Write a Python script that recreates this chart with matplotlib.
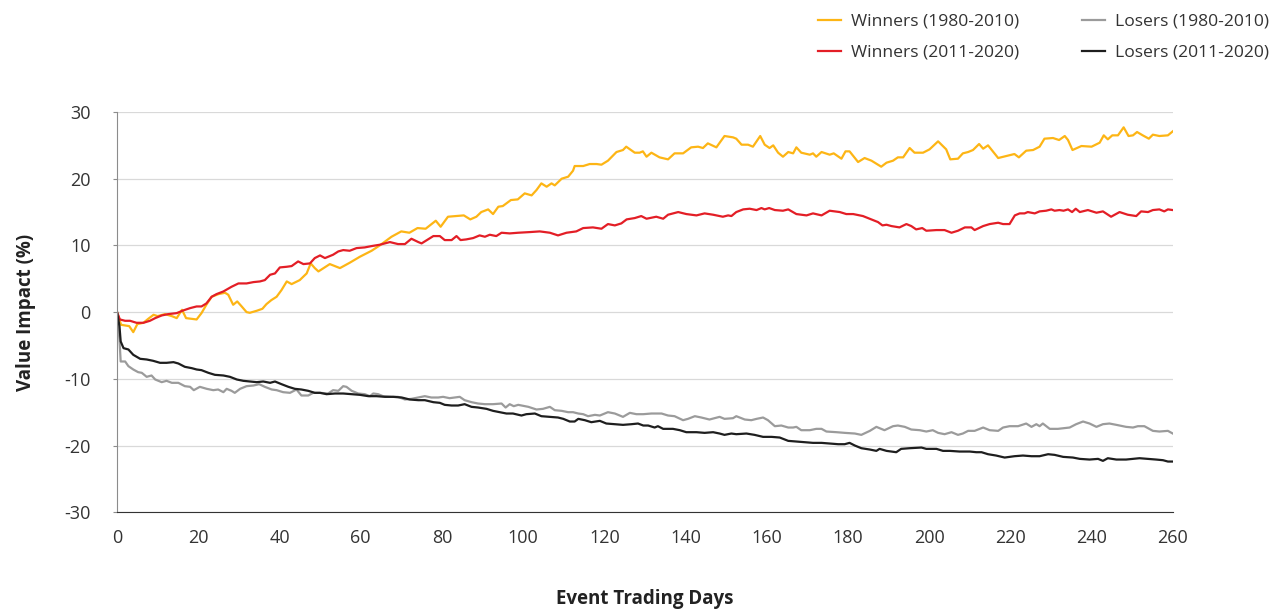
import matplotlib
matplotlib.use("Agg")
import matplotlib.pyplot as plt

# values (event day, value impact %)
win_old_days = [0, 1, 3, 4, 5, 6.5, 7.7, 9, 10, 11.8, 13.5, 14.7, 16, 17, 18.4, 19.6, 20.8, 22, 23.3, 25,
                26.6, 27.4, 28.6, 29.6, 30.7, 31.9, 32.7, 34.4, 35.8, 36.8, 38, 39.3, 40.5, 41.8, 43, 45,
                46.7, 47.7, 48.7, 49.6, 52.4, 54.9, 57.3, 59.8, 62.7, 64.7, 67.6, 70, 72, 74, 76, 78.5,
                79.7, 81.5, 83.6, 85.4, 87, 88.5, 89.7, 91.4, 92.6, 93.9, 95, 97, 98.7, 100.4, 102.1,
                103.3, 104.5, 105.8, 107, 107.8, 109.5, 111.1, 112.3, 112.7, 114.8, 116.4, 118.1, 119.3,
                120.9, 123, 124.6, 125.4, 127.5, 128.7, 129.5, 130.4, 131.6, 133.6, 135.7, 137.3, 139.4,
                141.4, 143.1, 144.3, 145.5, 147.6, 149.6, 151.7, 152.5, 153.8, 155.4, 156.6, 157.5, 158.4,
                159.5, 160.7, 161.6, 162.8, 164, 165.3, 166.5, 167.3, 168.5, 170.6, 171.4, 172.2, 173.5,
                175.5, 176.5, 178.4, 179.4, 180.4, 182.5, 184.1, 185.8, 188.2, 189.5, 191.1, 192.3, 193.6,
                195.2, 196.4, 198.5, 200.1, 202.2, 204.2, 205.2, 207.1, 208.3, 209.6, 210.8, 212.3, 213.3,
                214.5, 217, 219, 221, 222.1, 223.9, 225.6, 227.2, 228.4, 230.5, 232, 233.4, 234.2, 235.3,
                237.5, 240, 242, 243, 244, 245.1, 246.5, 247.9, 249.1, 250.2, 251.2, 252.6, 254.1, 255.1,
                256.7, 258.8, 260]
win_old_vals = [0, -1.9, -2.1, -3.0, -1.8, -1.6, -1.0, -0.4, -0.6, -0.3, -0.6, -0.9, 0.35, -0.9, -1.0, -1.1,
                -0.15, 1.1, 2.3, 2.7, 2.9, 2.6, 1.1, 1.6, 0.85, 0, -0.1, 0.2, 0.5, 1.2, 1.8, 2.3, 3.3, 4.6,
                4.2, 4.8, 5.8, 7.3, 6.6, 6.1, 7.2, 6.6, 7.4, 8.3, 9.2, 10, 11.3, 12.1, 11.9, 12.6, 12.5,
                13.7, 12.8, 14.3, 14.4, 14.5, 13.9, 14.3, 15, 15.4, 14.7, 15.8, 15.9, 16.8, 16.9, 17.8,
                17.5, 18.3, 19.3, 18.8, 19.3, 19, 20, 20.3, 21.2, 21.9, 21.9, 22.2, 22.2, 22.1, 22.7, 24,
                24.3, 24.8, 23.9, 23.9, 24.1, 23.3, 23.9, 23.2, 22.9, 23.8, 23.8, 24.7, 24.8, 24.6, 25.3,
                24.7, 26.4, 26.2, 26, 25.1, 25.1, 24.8, 25.6, 26.4, 25.1, 24.6, 25, 23.9, 23.3, 24, 23.8,
                24.7, 23.9, 23.6, 23.8, 23.3, 24, 23.6, 23.8, 23, 24.1, 24.1, 22.5, 23.1, 22.7, 21.8, 22.4,
                22.7, 23.2, 23.2, 24.6, 23.9, 23.9, 24.4, 25.6, 24.4, 22.9, 23, 23.8, 24, 24.3, 25.2, 24.5,
                25, 23.1, 23.4, 23.7, 23.2, 24.2, 24.3, 24.8, 26, 26.1, 25.8, 26.4, 25.8, 24.3, 24.9, 24.8,
                25.4, 26.5, 25.9, 26.5, 26.5, 27.7, 26.4, 26.5, 27, 26.5, 26, 26.6, 26.4, 26.5, 27.1]

win_new_days = [0, 0.7, 2, 3.2, 4.8, 6.5, 8.1, 9.4, 11, 12.6, 14.7, 16.3, 18, 19.6, 20.8, 22, 23.3, 24.5,
                26.2, 28.2, 29.9, 31.9, 33.6, 35.2, 36.4, 37.7, 38.9, 40.1, 41.8, 43, 44.6, 45.9, 47.5,
                48.7, 50, 51.2, 53.2, 54.5, 55.7, 57.3, 59, 61, 62.7, 64.7, 67.2, 69.2, 70.9, 72.5, 74.2,
                75, 76.6, 77.9, 79.5, 80.7, 82.4, 83.6, 84.6, 86, 87.7, 89.3, 90.6, 91.8, 93.4, 94.7,
                96.7, 98.8, 101.7, 104.1, 106.6, 108.6, 110.7, 113.1, 114.8, 117.2, 119.3, 120.9, 122.6,
                124.2, 125.5, 127.5, 129.1, 130.4, 132.8, 134.5, 135.7, 138.2, 140.2, 142.7, 144.7, 146.8,
                149.2, 150.5, 151.3, 152.5, 154.2, 155.8, 157.5, 158.7, 159.5, 160.6, 162, 164, 165.3,
                167.3, 169.8, 171.4, 173.5, 175.5, 178, 179.6, 181.3, 183.7, 186.2, 187.4, 188.5, 189.5,
                190.7, 192.7, 194.4, 195.6, 196.8, 198.3, 199.3, 201.8, 203.8, 205.5, 207.1, 208.8, 210.4,
                211.2, 213.3, 214.9, 217, 218.2, 219.8, 221.1, 222.3, 223.5, 224.3, 226, 227.2, 228.8,
                230.1, 230.9, 232.1, 233.1, 234.2, 235.2, 236.1, 237.1, 239.1, 241.2, 242.8, 244.8, 246.9,
                248.9, 251, 252.2, 253.9, 255.1, 256.7, 257.9, 258.8, 260]
win_new_vals = [0, -1.1, -1.3, -1.3, -1.6, -1.6, -1.3, -0.9, -0.5, -0.3, -0.15, 0.25, 0.6, 0.85, 0.85, 1.3,
                2.3, 2.7, 3.1, 3.8, 4.3, 4.3, 4.5, 4.6, 4.8, 5.6, 5.8, 6.7, 6.8, 6.9, 7.6, 7.2, 7.3, 8.1,
                8.5, 8.1, 8.6, 9.1, 9.3, 9.2, 9.6, 9.7, 9.9, 10.1, 10.5, 10.2, 10.2, 11, 10.5, 10.3, 10.9,
                11.4, 11.4, 10.8, 10.8, 11.4, 10.8, 10.9, 11.1, 11.5, 11.3, 11.6, 11.4, 11.9, 11.8, 11.9,
                12, 12.1, 11.9, 11.5, 11.9, 12.1, 12.6, 12.7, 12.5, 13.2, 13, 13.3, 13.9, 14.1, 14.4, 14,
                14.3, 14, 14.6, 15, 14.7, 14.5, 14.8, 14.6, 14.3, 14.5, 14.4, 15, 15.4, 15.5, 15.3, 15.6,
                15.4, 15.6, 15.3, 15.2, 15.4, 14.7, 14.5, 14.8, 14.5, 15.2, 15, 14.7, 14.7, 14.4, 13.8,
                13.5, 13, 13.1, 12.9, 12.7, 13.2, 12.9, 12.4, 12.6, 12.2, 12.3, 12.3, 11.9, 12.2, 12.7,
                12.7, 12.3, 12.9, 13.2, 13.4, 13.2, 13.2, 14.5, 14.8, 14.8, 15, 14.8, 15.1, 15.2, 15.4,
                15.2, 15.3, 15.2, 15.4, 15, 15.5, 15, 15.3, 14.9, 15.1, 14.3, 15, 14.6, 14.4, 15.1, 15,
                15.3, 15.4, 15.1, 15.4, 15.3]

lose_old_days = [0, 0.6, 0.9, 2, 2.8, 4, 5.2, 6.1, 7.3, 8.5, 9.4, 11, 12.2, 13.5, 15.1, 16.7, 18, 18.9,
                 20.4, 22.1, 23.7, 24.9, 26.2, 27, 28.2, 29, 30.3, 31.9, 33.6, 35, 36.4, 38.1, 39.3, 40.9,
                 42.6, 44.2, 45.4, 47.1, 48.3, 50, 52, 53.2, 54.5, 55.7, 56.5, 57.8, 59.4, 61, 62.3, 63.1,
                 64.3, 65.5, 67.6, 69.2, 70.9, 72.5, 74.2, 75.8, 77.4, 79.1, 80.3, 81.9, 83.2, 84.4, 85.6,
                 87.3, 88.9, 90.6, 92.6, 94.7, 95.7, 96.7, 97.7, 98.8, 100.4, 101.3, 103.3, 104.9, 106.6,
                 107.8, 109.5, 111.1, 112.3, 113.6, 114.8, 116, 117.7, 118.9, 120.9, 122.6, 124.6, 126.3,
                 127.9, 129.6, 131.6, 134.1, 135.7, 137.3, 139.4, 140.6, 142.3, 143.9, 145.9, 148.4,
                 149.6, 151.7, 152.5, 154.6, 156.2, 157.5, 159.1, 160.3, 162, 163.6, 165.3, 166.5, 167.3,
                 168.5, 170.6, 172.2, 173.5, 174.7, 177.2, 179.2, 181.7, 183.3, 185.4, 187, 189, 191.1,
                 192.3, 194, 195.6, 197.7, 199.3, 200.9, 202.2, 203.8, 205.5, 207.1, 208.3, 209.6, 211.2,
                 213.3, 214.9, 217, 218.2, 219.8, 221.9, 223.9, 225.2, 226.4, 227.2, 228, 229.7, 231.7,
                 234.6, 236.2, 237.9, 239.5, 241.2, 242.8, 244.4, 246.1, 248.5, 250.2, 251.4, 253, 255.1,
                 256.7, 258.8, 260]
lose_old_vals = [0, -4.1, -7.4, -7.4, -8.1, -8.6, -9, -9.1, -9.7, -9.5, -10.1, -10.5, -10.3, -10.6, -10.6,
                 -11.1, -11.2, -11.7, -11.2, -11.5, -11.7, -11.6, -12, -11.5, -11.8, -12.1, -11.5, -11.1,
                 -11, -10.8, -11.2, -11.6, -11.7, -12, -12.1, -11.6, -12.5, -12.5, -12.1, -12.1, -12.2,
                 -11.7, -11.8, -11.1, -11.2, -11.8, -12.2, -12.3, -12.6, -12.2, -12.3, -12.6, -12.7, -12.7,
                 -13.1, -13, -12.8, -12.6, -12.8, -12.8, -12.7, -12.9, -12.8, -12.7, -13.2, -13.5, -13.7,
                 -13.8, -13.8, -13.7, -14.3, -13.8, -14.1, -13.9, -14.1, -14.2, -14.6, -14.5, -14.2, -14.7,
                 -14.8, -15, -15, -15.2, -15.3, -15.6, -15.4, -15.5, -15, -15.2, -15.7, -15.1, -15.3,
                 -15.3, -15.2, -15.2, -15.5, -15.6, -16.2, -16, -15.6, -15.8, -16.1, -15.7, -16, -15.9,
                 -15.6, -16.1, -16.2, -16, -15.8, -16.2, -17.1, -17, -17.3, -17.3, -17.2, -17.7, -17.7,
                 -17.5, -17.5, -17.9, -18, -18.1, -18.2, -18.4, -17.8, -17.2, -17.7, -17.1, -17, -17.2,
                 -17.6, -17.7, -17.9, -17.7, -18.1, -18.3, -18, -18.4, -18.2, -17.8, -17.8, -17.3, -17.7,
                 -17.8, -17.3, -17.1, -17.1, -16.7, -17.2, -16.8, -17.1, -16.7, -17.5, -17.5, -17.3,
                 -16.8, -16.4, -16.7, -17.2, -16.8, -16.7, -16.9, -17.2, -17.3, -17.1, -17.1, -17.8,
                 -17.9, -17.8, -18.2]

lose_new_days = [0, 0.6, 0.9, 1.6, 2.8, 4, 5.7, 7.3, 8.9, 10.6, 12.2, 13.9, 15.1, 16.7, 18.4, 19.6, 20.8,
                 22.5, 24.1, 26.2, 27.8, 29.5, 31.1, 32.7, 34.4, 36, 37.7, 38.9, 40.5, 42.2, 43.8, 45.4,
                 47.1, 48.7, 50, 51.6, 53.7, 55.7, 57.8, 59.8, 61.9, 63.9, 66, 68, 70.1, 72.1, 74.2, 75.8,
                 77.9, 79.5, 80.7, 82.4, 84, 85.6, 87.3, 88.9, 91, 92.6, 94.3, 95.9, 97.5, 99.6, 100.8,
                 102.9, 104.5, 106.6, 108.6, 109.9, 111.5, 112.7, 113.6, 115.2, 116.8, 118.9, 120.5,
                 122.6, 124.6, 126.7, 128.3, 129.6, 130.8, 132.4, 133.2, 134.5, 136.9, 138.6, 140.2,
                 142.7, 144.7, 146.8, 148.4, 149.6, 151.3, 152.5, 155, 157, 159.1, 161.2, 163.2, 165.3,
                 167.3, 169.4, 171.4, 173.5, 175.5, 177.6, 179.2, 180.4, 181.7, 183.3, 185.4, 187, 187.8,
                 189.5, 191.9, 193.1, 195.2, 198.1, 199.3, 201.8, 203.4, 205.1, 207.5, 210, 211.6, 212.9,
                 214.5, 216.5, 218.6, 221, 223.1, 225.2, 227.2, 229.3, 230.9, 233, 235.4, 237.1, 239.5,
                 241.6, 242.8, 244, 246.1, 248.5, 250.2, 251.8, 253.9, 255.9, 257.6, 258.8, 260]
lose_new_vals = [0, -2.1, -4.4, -5.4, -5.6, -6.4, -7, -7.1, -7.3, -7.6, -7.6, -7.5, -7.7, -8.2, -8.4, -8.6,
                 -8.7, -9.1, -9.4, -9.5, -9.7, -10.1, -10.3, -10.4, -10.5, -10.4, -10.6, -10.4, -10.8,
                 -11.2, -11.5, -11.6, -11.8, -12.1, -12.1, -12.3, -12.2, -12.2, -12.3, -12.4, -12.6,
                 -12.6, -12.7, -12.7, -12.8, -13.1, -13.2, -13.2, -13.5, -13.6, -13.9, -14, -14, -13.8,
                 -14.2, -14.3, -14.5, -14.8, -15, -15.2, -15.2, -15.5, -15.3, -15.2, -15.6, -15.7, -15.8,
                 -16, -16.4, -16.4, -16, -16.2, -16.5, -16.3, -16.7, -16.8, -16.9, -16.8, -16.7, -17, -17,
                 -17.3, -17.1, -17.5, -17.5, -17.7, -18, -18, -18.1, -18, -18.2, -18.4, -18.2, -18.3,
                 -18.2, -18.4, -18.7, -18.7, -18.8, -19.3, -19.4, -19.5, -19.6, -19.6, -19.7, -19.8,
                 -19.8, -19.6, -20, -20.4, -20.6, -20.8, -20.5, -20.8, -21, -20.5, -20.4, -20.3, -20.5,
                 -20.5, -20.8, -20.8, -20.9, -20.9, -21, -21, -21.3, -21.5, -21.8, -21.6, -21.5, -21.6,
                 -21.6, -21.3, -21.4, -21.7, -21.8, -22, -22.1, -22, -22.3, -21.9, -22.1, -22.1, -22,
                 -21.9, -22, -22.1, -22.2, -22.4, -22.4]

x_ticks = list(range(0, 261, 20))
y_ticks = [-30, -20, -10, 0, 10, 20, 30]

plt.rcParams['font.family'] = ['Open Sans', 'DejaVu Sans']
plt.rcParams['axes.unicode_minus'] = False

fig = plt.figure(figsize=(12.72, 6.12), dpi=100)
ax = fig.add_axes([0.092, 0.163, 0.830, 0.654])

ax.plot(win_old_days, win_old_vals, color='#FDB515', lw=1.6, label='Winners (1980-2010)')
ax.plot(win_new_days, win_new_vals, color='#E31E26', lw=1.6, label='Winners (2011-2020)')
ax.plot(lose_old_days, lose_old_vals, color='#9B9B9B', lw=1.6, label='Losers (1980-2010)')
ax.plot(lose_new_days, lose_new_vals, color='#1E1E1E', lw=1.6, label='Losers (2011-2020)')

ax.set_xlim(0, 260)
ax.set_ylim(-30, 30)
ax.set_xticks(x_ticks)
ax.set_yticks(y_ticks)
ax.grid(axis='y', color='#D9D9D9', lw=0.9)
ax.set_axisbelow(True)

for s in ['top', 'right']:
    ax.spines[s].set_visible(False)
ax.spines['left'].set_color('#8C8C8C')
ax.spines['bottom'].set_color('#333333')
ax.tick_params(axis='y', length=3, color='#8C8C8C', pad=16, labelsize=13, labelcolor='#333333')
ax.tick_params(axis='x', length=0, pad=12, labelsize=13, labelcolor='#333333')

ax.set_xlabel('Event Trading Days', fontsize=13.5, fontweight='bold', color='#222222', labelpad=30)
ax.set_ylabel('Value Impact (%)', fontsize=13.5, fontweight='bold', color='#222222', labelpad=20)

fig.legend(loc='upper right', bbox_to_anchor=(0.998, 0.978), ncol=2, frameon=False,
           fontsize=12.6, handlelength=1.3, handletextpad=0.6, columnspacing=3.6,
           labelspacing=0.85, borderpad=0, borderaxespad=0, labelcolor='#333333')

fig.savefig('out.png', dpi=100)
